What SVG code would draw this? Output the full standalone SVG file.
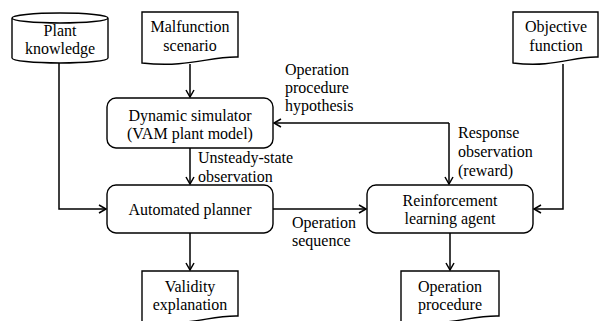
<svg xmlns="http://www.w3.org/2000/svg" width="609" height="321" viewBox="0 0 609 321" font-family="'Liberation Serif', 'Times New Roman', serif" font-size="16">
<style>
.s{fill:#fff;stroke:#000;stroke-width:1.4}
.c{fill:none;stroke:#000;stroke-width:1.5}
text{font-family:'Liberation Serif','Times New Roman',serif;font-size:16px;fill:#000}
.m{text-anchor:middle}
</style>
<defs>
<marker id="a" markerUnits="userSpaceOnUse" markerWidth="12" markerHeight="12" refX="8" refY="5" orient="auto">
<path d="M1,1 L8,5 L1,9" fill="none" stroke="#000" stroke-width="1.5"/>
</marker>
</defs>
<rect width="609" height="321" fill="#fff"/>
<g id="connectors">
<path class="c" d="M59,63 V209 H106" marker-end="url(#a)"/>
<path class="c" d="M190,64 V97" marker-end="url(#a)"/>
<path class="c" d="M190,148 V184" marker-end="url(#a)"/>
<path class="c" d="M273,209 H366" marker-end="url(#a)"/>
<path class="c" d="M563,64 V209 H534" marker-end="url(#a)"/>
<path class="c" d="M449,123 H274" marker-end="url(#a)"/>
<path class="c" d="M449,123 V184" marker-end="url(#a)"/>
<path class="c" d="M190,233 V270" marker-end="url(#a)"/>
<path class="c" d="M450,233 V270" marker-end="url(#a)"/>
<text x="285" y="75">Operation</text>
<text x="285" y="93">procedure</text>
<text x="285" y="111">hypothesis</text>
<text x="458" y="138">Response</text>
<text x="458" y="157">observation</text>
<text x="458" y="176">(reward)</text>
<text x="198" y="163">Unsteady-state</text>
<text x="198" y="182">observation</text>
<text x="292" y="228">Operation</text>
<text x="292" y="246">sequence</text>
</g>
<g id="plant-knowledge">
<path class="s" d="M12,18 V58 A48,5 0 0 0 108,58 V18 A48,5 0 0 0 12,18 A48,5 0 0 0 108,18"/>
<text class="m" x="60" y="36">Plant</text>
<text class="m" x="60" y="54">knowledge</text>
</g>
<g id="malfunction-scenario">
<path class="s" d="M142,12 H238 V57 C210,56 190,68 142,63 Z"/>
<text class="m" x="190" y="32">Malfunction</text>
<text class="m" x="190" y="51">scenario</text>
</g>
<g id="objective-function">
<path class="s" d="M513,12 H598 V57 C573,56 555,68 513,63 Z"/>
<text class="m" x="556" y="32">Objective</text>
<text class="m" x="556" y="51">function</text>
</g>
<g id="dynamic-simulator">
<rect class="s" x="107" y="98" width="166" height="50" rx="9"/>
<text class="m" x="190" y="121">Dynamic simulator</text>
<text class="m" x="190" y="139">(VAM plant model)</text>
</g>
<g id="automated-planner">
<rect class="s" x="107" y="185" width="166" height="48" rx="9"/>
<text class="m" x="190" y="215">Automated planner</text>
</g>
<g id="rl-agent">
<rect class="s" x="367" y="185" width="166" height="48" rx="9"/>
<text class="m" x="450" y="206">Reinforcement</text>
<text class="m" x="450" y="224">learning agent</text>
</g>
<g id="validity-explanation">
<path class="s" d="M142,271 H238 V316 C210,315 190,327 142,322 Z"/>
<text class="m" x="190" y="292">Validity</text>
<text class="m" x="190" y="310">explanation</text>
</g>
<g id="operation-procedure">
<path class="s" d="M401,271 H499 V316 C470,315 450,327 401,322 Z"/>
<text class="m" x="450" y="292">Operation</text>
<text class="m" x="450" y="310">procedure</text>
</g>
</svg>
